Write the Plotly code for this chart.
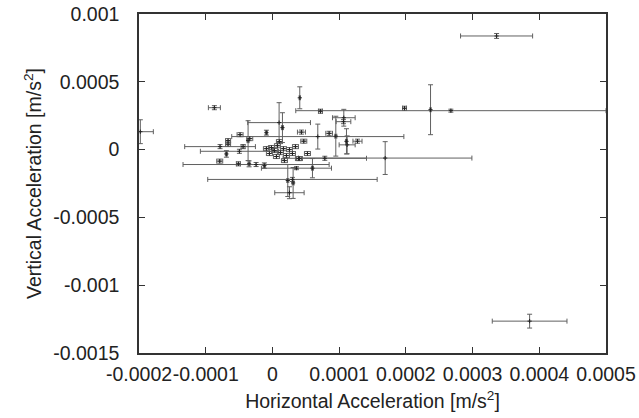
import plotly.graph_objects as go

# Horizontal / vertical acceleration values (m/s^2) and their errors
x_vals = [3.36e-4, 3.855e-4, -1.98e-4, -8.7e-5, 4.1e-5, 2.675e-4, 2.37e-4, 7.2e-5, 1.98e-4,
          1.07e-4, 1.065e-4, 9.5e-5, 1.11e-4, 1.0e-5, 1.5e-5, 6.8e-5, 8.5e-5, 4.35e-5, 4.7e-5,
          1.275e-4, 1.12e-4, 5.25e-5, 1.69e-4, 7.85e-5, 6.0e-5, -2.45e-5, 3.0e-5, 2.55e-5,
          2.3e-5, 3.1e-5, -4.85e-5, -9e-6, -6.65e-5, -6.65e-5, -3.4e-5, -7.85e-5, -4.4e-5,
          -3.65e-5, -4.95e-5, -6.9e-5, -7.9e-5, -5.1e-5, -3.5e-5, 3.6e-5,
          -1.5e-6, 3e-6, 7.5e-6, 1.2e-5, 1.65e-5, 2.1e-5, 2.55e-5, 6e-6, -4.5e-6, 3e-5,
          3.45e-5, 3.9e-5, 1.8e-5, -9e-6, 1.05e-5, -1.2e-5, 4.05e-5]
y_vals = [8.38e-4, -1.265e-3, 1.32e-4, 3.09e-4, 3.82e-4, 2.87e-4, 2.94e-4, 2.83e-4, 3.05e-4,
          2.35e-4, 2.06e-4, 9.9e-5, 6.1e-5, 1.99e-4, 1.62e-4, 9.6e-5, 1.2e-4, 1.29e-4, 6.2e-5,
          6.2e-5, 3.5e-5, -2.9e-5, -6.25e-5, -6.4e-5, -1.37e-4, -1.1e-4, -2.2e-4, -3.18e-4,
          -2.28e-4, -2.46e-4, 1.1e-4, 1.25e-4, 6.6e-5, 4.0e-5, 8.1e-5, 2.2e-5, 2.2e-5,
          6.6e-5, -1.25e-5, -3.2e-5, -8.5e-5, -1.05e-4, -1.05e-4, -1.37e-4,
          1.5e-5, -7e-6, 2.9e-5, -2.2e-5, 7e-6, -4.4e-5, 0.0, -5.1e-5, -2.9e-5, -2.9e-5,
          2.2e-5, -6.6e-5, -8.1e-5, 7e-6, 5.9e-5, -1.18e-4, -6.6e-5]
x_err = [5.4e-5, 5.6e-5, 1.95e-5, 9e-6, 1e-6, 2.325e-4, 1e-6, 3e-6, 3e-6,
         1.7e-5, 1.1e-5, 1.5e-6, 1.5e-6, 4.7e-5, 1.5e-6, 1.29e-4, 5e-6, 6e-6, 4.5e-6,
         6.8e-6, 1.2e-5, 4.5e-6, 1.3e-4, 6.25e-5, 1.5e-6, 1.095e-4, 1.27e-4, 2.2e-5,
         1.5e-6, 1.5e-6, 4.5e-6, 1.5e-6, 3.8e-6, 3.8e-6, 4.5e-6, 5.3e-5, 3e-6,
         1.5e-6, 5.85e-5, 1.5e-6, 4.5e-6, 3e-6, 1.5e-6, 5.25e-5,
         4.5e-6, 4.5e-6, 4.5e-6, 4.5e-6, 4.5e-6, 4.5e-6, 4.5e-6, 4.5e-6, 4.5e-6, 4.5e-6,
         4.5e-6, 4.5e-6, 4.5e-6, 4.5e-6, 4.5e-6, 1.5e-6, 4.5e-6]
y_err = [1.8e-5, 5.1e-5, 8.8e-5, 1.5e-5, 8.1e-5, 1.1e-5, 1.84e-4, 1.5e-5, 1.5e-5,
         6.2e-5, 1.5e-5, 1.47e-4, 9.3e-5, 1.47e-4, 1.1e-4, 9.2e-5, 1.5e-5, 1.5e-5, 1.5e-5,
         1.5e-5, 6.6e-5, 1.5e-5, 1.21e-4, 1.5e-5, 7.1e-5, 1.5e-5, 1.5e-5, 4.4e-5,
         1.18e-4, 1.14e-4, 1.5e-5, 1.8e-5, 1.5e-5, 1.5e-5, 1.5e-5, 1.5e-5, 1.5e-5,
         1.47e-4, 1.5e-5, 2.4e-5, 1.5e-5, 1.5e-5, 2.2e-5, 1.1e-5,
         1.5e-5, 1.5e-5, 1.5e-5, 1.5e-5, 1.5e-5, 1.5e-5, 1.5e-5, 1.5e-5, 1.5e-5, 1.5e-5,
         1.5e-5, 1.5e-5, 1.5e-5, 1.5e-5, 1.5e-5, 2e-5, 1.5e-5]

x_ticks = [-0.0002, -0.0001, 0, 0.0001, 0.0002, 0.0003, 0.0004, 0.0005]
x_tick_text = ["-0.0002", "-0.0001", "0", "0.0001", "0.0002", "0.0003", "0.0004", "0.0005"]
y_ticks = [0.001, 0.0005, 0, -0.0005, -0.001, -0.0015]
y_tick_text = ["0.001", "0.0005", "0", "-0.0005", "-0.001", "-0.0015"]

bar_color = "#606060"

fig = go.Figure(go.Scatter(
    x=x_vals, y=y_vals, mode="markers",
    marker=dict(symbol="cross-thin", size=3, color="#222", line=dict(width=1, color="#222")),
    error_x=dict(type="data", array=x_err, visible=True, color=bar_color, thickness=1, width=2.5),
    error_y=dict(type="data", array=y_err, visible=True, color=bar_color, thickness=1, width=2.5),
    showlegend=False, hoverinfo="skip",
))

font = dict(family="Liberation Sans, Arial, sans-serif", size=19.5, color="#222")
axis_common = dict(showgrid=False, zeroline=False, showline=True, linecolor="#333", linewidth=1.5,
                   mirror="ticks", ticks="inside", ticklen=6, tickcolor="#333", tickwidth=1,
                   tickfont=font, tickangle=0)

fig.update_layout(
    width=639, height=418,
    margin=dict(l=139, r=33, t=14, b=65, autoexpand=False),
    paper_bgcolor="white", plot_bgcolor="white",
    font=font,
    xaxis=dict(range=[-0.0002, 0.0005], tickvals=x_ticks, ticktext=x_tick_text,
               title=dict(text="Horizontal Acceleration [m/s<sup>2</sup>]", font=font, standoff=10),
               ticklabelstandoff=3, **axis_common),
    yaxis=dict(range=[-0.0015, 0.001], tickvals=y_ticks, ticktext=y_tick_text,
               title=dict(text="Vertical Acceleration [m/s<sup>2</sup>]", font=font, standoff=6),
               ticklabelstandoff=14, **axis_common),
)

fig.write_html("out.html", config={"displayModeBar": False},
               post_script="document.body.style.margin='0';document.body.style.overflow='hidden';")
